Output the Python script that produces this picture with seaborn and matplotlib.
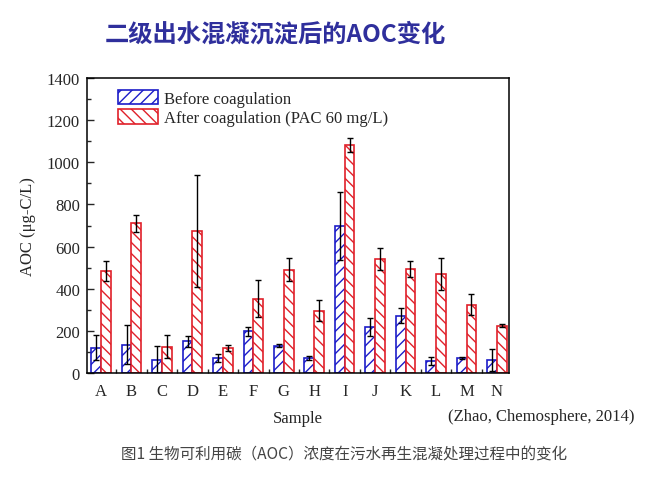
import numpy as np
import pandas as pd
import seaborn as sns
import matplotlib.pyplot as plt
from matplotlib.patches import Patch
from matplotlib.ticker import MultipleLocator, FixedLocator

samples = list("ABCDEFGHIJKLMN")
before = [120, 135, 62, 150, 71, 198, 130, 71, 699, 217, 272, 59, 71, 62]
before_err = [60, 94, 65, 27, 21, 22, 8, 8, 162, 43, 35, 19, 3, 53]
after = [483, 710, 125, 675, 119, 353, 490, 296, 1082, 541, 494, 470, 323, 225]
after_err = [47, 40, 55, 266, 14, 87, 54, 50, 32, 54, 36, 76, 50, 7]
groups = ["Before coagulation", "After coagulation (PAC 60 mg/L)"]

df = pd.DataFrame({
    "Sample": samples * 2,
    "AOC": before + after,
    "err": before_err + after_err,
    "group": [groups[0]] * len(samples) + [groups[1]] * len(samples),
})

sns.set_style("ticks")
plt.rcParams['font.family'] = ['Liberation Serif', 'DejaVu Serif']
plt.rcParams['hatch.linewidth'] = 1.0

colors = ["#1c1cc8", "#e0202a"]
hatches = ["///", "\\\\\\"]

fig = plt.figure(figsize=(6.47, 4.85), dpi=100)
ax = fig.add_axes([0.1345, 0.2289, 0.652, 0.608])

sns.barplot(data=df, x="Sample", y="AOC", hue="group", hue_order=groups,
            width=0.64, errorbar=None, ax=ax, legend=False,
            palette=colors, saturation=1)

# white bars with coloured outline + hatch, then the error bars
for cont, col, hat, errs in zip(ax.containers, colors, hatches, [before_err, after_err]):
    xs, ys = [], []
    for p in cont.patches:
        p.set_facecolor("white")
        p.set_edgecolor(col)
        p.set_hatch(hat)
        p.set_linewidth(1.2)
        xs.append(p.get_x() + p.get_width() / 2)
        ys.append(p.get_height())
    ax.errorbar(xs, ys, yerr=errs, fmt="none", ecolor="black",
                elinewidth=1.0, capsize=2.5, capthick=1.0, zorder=5)

ax.set_ylim(0, 1400)
ax.set_xlim(-0.46, 13.39)
ax.yaxis.set_major_locator(MultipleLocator(200))
ax.yaxis.set_minor_locator(MultipleLocator(100))
ax.xaxis.set_minor_locator(FixedLocator(np.arange(len(samples) - 1) + 0.5))
ax.tick_params(axis="y", which="major", direction="in", length=5, width=1, labelsize=12, pad=5)
ax.tick_params(axis="y", which="minor", direction="in", length=3, width=1)
ax.tick_params(axis="x", which="major", length=0, labelsize=12, pad=7)
ax.tick_params(axis="x", which="minor", direction="in", length=3, width=1)
for s in ax.spines.values():
    s.set_visible(True)
    s.set_linewidth(1.1)
    s.set_color("black")

ax.set_ylabel("AOC (μg-C/L)", fontsize=12, labelpad=8)
ax.set_xlabel("Sample", fontsize=12, labelpad=8)

handles = [Patch(facecolor="white", edgecolor=c, hatch=h, linewidth=1.2) for c, h in zip(colors, hatches)]
ax.legend(handles, groups, loc="upper left", bbox_to_anchor=(0.045, 1.0), frameon=False,
          fontsize=12, handlelength=2.4, handleheight=0.95, handletextpad=0.4,
          labelspacing=0.15, borderaxespad=0.3)

fig.text(0.981, 0.14, "(Zhao, Chemosphere, 2014)", ha="right", va="center", fontsize=12)

fig.text(0.425, 0.928, "二级出水混凝沉淀后的AOC变化", ha="center", va="center",
         fontsize=17.5, fontweight="bold", color="#2f2f9c",
         family=["Noto Sans CJK SC", "DejaVu Sans"])
fig.text(0.532, 0.062, "图1 生物可利用碳（AOC）浓度在污水再生混凝处理过程中的变化",
         ha="center", va="center", fontsize=11.2, color="#444444",
         family=["Noto Sans CJK SC", "DejaVu Sans"])

fig.savefig("out.png", dpi=100)
